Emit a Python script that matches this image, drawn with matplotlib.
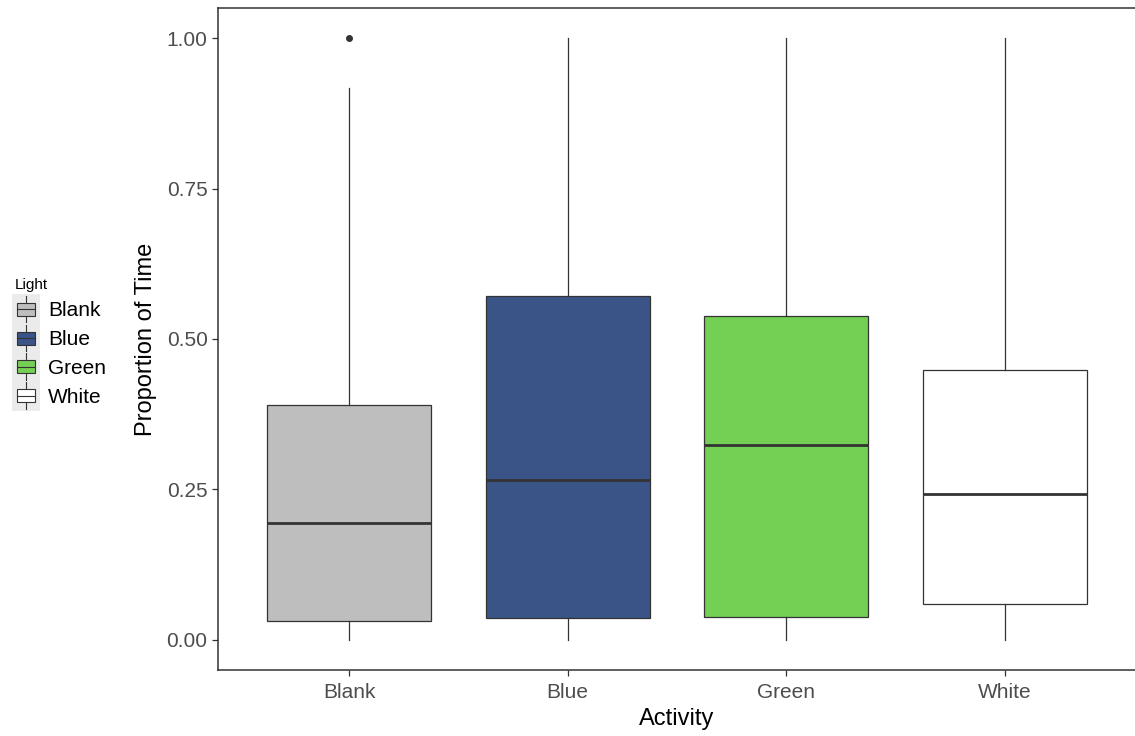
import matplotlib
matplotlib.use("Agg")
import matplotlib.pyplot as plt
from matplotlib.legend_handler import HandlerBase
from matplotlib.patches import Rectangle, Patch
from matplotlib.lines import Line2D

plt.rcParams['font.family'] = ['Liberation Sans', 'DejaVu Sans']

# datos
categorias = ['Blank', 'Blue', 'Green', 'White']
colores = ['#BEBEBE', '#3A5488', '#74D055', '#FFFFFF']
bigote_inf = [0.0, 0.0, 0.0, 0.0]
q1 = [0.032, 0.037, 0.038, 0.060]
mediana = [0.194, 0.266, 0.324, 0.243]
q3 = [0.390, 0.571, 0.538, 0.449]
bigote_sup = [0.917, 1.0, 1.0, 1.0]
atipicos = [[1.0], [], [], []]

stats = []
for i, c in enumerate(categorias):
    stats.append({'label': c, 'whislo': bigote_inf[i], 'q1': q1[i], 'med': mediana[i],
                  'q3': q3[i], 'whishi': bigote_sup[i], 'fliers': atipicos[i]})

fig = plt.figure(figsize=(11.35, 7.36), dpi=100)
ax = fig.add_axes([218/1135, 66/736, 918/1135, 662/736])

oscuro = '#333333'
bp = ax.bxp(stats, positions=range(1, 5), widths=0.75, patch_artist=True, showcaps=False,
            boxprops=dict(edgecolor=oscuro, linewidth=0.9),
            medianprops=dict(color=oscuro, linewidth=2),
            whiskerprops=dict(color=oscuro, linewidth=0.9),
            flierprops=dict(marker='o', markerfacecolor=oscuro, markeredgecolor=oscuro, markersize=4))
for caja, col in zip(bp['boxes'], colores):
    caja.set_facecolor(col)

ax.set_xlim(0.4, 4.6)
ax.set_ylim(-0.05, 1.05)
ax.set_yticks([0, 0.25, 0.5, 0.75, 1.0])
ax.set_yticklabels(['0.00', '0.25', '0.50', '0.75', '1.00'])
ax.set_xticks(range(1, 5))
ax.set_xticklabels(categorias)
ax.tick_params(colors=oscuro, labelcolor='#4D4D4D', labelsize=15, length=4, width=0.9)
ax.tick_params(axis='x', pad=5)
ax.spines['right'].set_visible(False)
for s in ['left', 'bottom', 'top']:
    ax.spines[s].set_color(oscuro)
    ax.spines[s].set_linewidth(1.1)
ax.set_xlabel('Activity', fontsize=17, labelpad=5)
ax.set_ylabel('Proportion of Time', fontsize=17, labelpad=7)


class HandlerCaja(HandlerBase):
    def create_artists(self, legend, orig, xd, yd, w, h, fontsize, trans):
        fondo = Rectangle((-xd - 2, -yd - 4), w + 4, h + 8, facecolor='#EBEBEB',
                          edgecolor='none', transform=trans)
        cx = -xd + w / 2
        caja = Rectangle((-xd + w * 0.1, -yd + h * 0.15), w * 0.8, h * 0.7,
                         facecolor=orig.get_facecolor(), edgecolor=oscuro, lw=0.8, transform=trans)
        med = Line2D([-xd + w * 0.1, -xd + w * 0.9], [-yd + h / 2] * 2, color=oscuro, lw=0.8, transform=trans)
        b1 = Line2D([cx, cx], [-yd - 3, -yd + h * 0.15], color=oscuro, lw=0.8, transform=trans)
        b2 = Line2D([cx, cx], [-yd + h * 0.85, -yd + h + 3], color=oscuro, lw=0.8, transform=trans)
        return [fondo, caja, med, b1, b2]


handles = [Patch(facecolor=c, label=l) for c, l in zip(colores, categorias)]
leg = fig.legend(handles=handles, labels=categorias, title='Light', loc='center left',
                 bbox_to_anchor=(0.0, 0.535), frameon=False, fontsize=15, title_fontsize=11,
                 handler_map={Patch: HandlerCaja()}, handlelength=1.1, handleheight=1.0,
                 handletextpad=0.5, labelspacing=0.4, borderaxespad=0.3)
leg._legend_box.align = 'left'

fig.savefig('out.png', dpi=100)
